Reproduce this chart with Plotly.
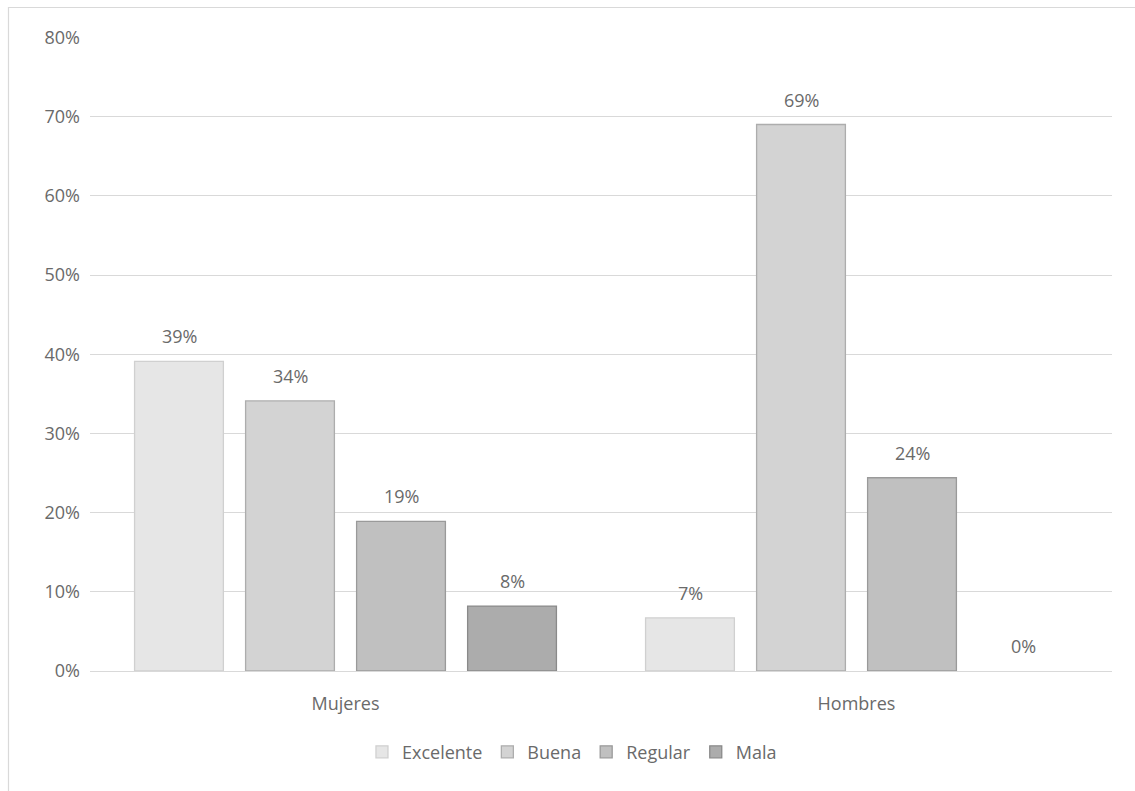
import plotly.graph_objects as go

categories = ["Mujeres", "Hombres"]
series_names = ["Excelente", "Buena", "Regular", "Mala"]
excelente = [0.391, 0.067]
buena = [0.341, 0.690]
regular = [0.189, 0.244]
mala = [0.082, 0.0]
labels = [["39%", "7%"], ["34%", "69%"], ["19%", "24%"], ["8%", "0%"]]
tick_vals = [0, 0.1, 0.2, 0.3, 0.4, 0.5, 0.6, 0.7, 0.8]
tick_text = ["0%", "10%", "20%", "30%", "40%", "50%", "60%", "70%", "80%"]

fills = ["#e6e6e6", "#d3d3d3", "#c0c0c0", "#acacac"]
borders = ["#d0d0d0", "#adadad", "#9a9a9a", "#8a8a8a"]
values = [excelente, buena, regular, mala]
txt = "#6a6a6a"
FONT = "Open Sans"
FS = 18

fig = go.Figure()
for i, (name, vals, f, b, lab) in enumerate(zip(series_names, values, fills, borders, labels)):
    fig.add_trace(go.Bar(
        x=categories, y=vals, name=name, offsetgroup=str(i),
        marker=dict(color=f, line=dict(color=b, width=[1.3 if v > 0 else 0 for v in vals])),
    ))

# data labels placed above each bar via annotations (positions from data)
nser = len(series_names)
for i, (vals, lab) in enumerate(zip(values, labels)):
    for j, (v, t) in enumerate(zip(vals, lab)):
        fig.add_annotation(
            x=categories[j], y=v, text=t, showarrow=False,
            xref="x", yref="y", yanchor="bottom", yshift=11,
            xshift=(i - (nser - 1) / 2) * 111,
            font=dict(color=txt, size=FS, family=FONT),
        )

fig.update_layout(
    width=1135, height=791,
    margin=dict(l=90, r=23, t=37, b=120),
    paper_bgcolor="white", plot_bgcolor="white",
    barmode="group", bargap=0.131, bargroupgap=0.2,
    font=dict(family=FONT, color=txt, size=FS),
    showlegend=True,
    legend=dict(orientation="h", x=0.4716, xanchor="center", y=-0.128, yanchor="middle",
                font=dict(size=FS, color=txt, family=FONT), itemwidth=30,
                traceorder="normal"),
    xaxis=dict(showgrid=False, showline=False, ticks="", ticklabelstandoff=20,
               tickfont=dict(size=FS, color=txt)),
    yaxis=dict(range=[0, 0.8005], tickvals=tick_vals, ticktext=tick_text,
               showgrid=True, gridcolor="#d9d9d9", gridwidth=1,
               zeroline=True, zerolinecolor="#d9d9d9", zerolinewidth=1,
               showline=False, ticks="", ticklabelstandoff=9,
               tickfont=dict(size=FS, color=txt)),
    shapes=[dict(type="rect", xref="paper", yref="paper",
                 x0=(8.5 - 90) / 1022, x1=(1140 - 90) / 1022,
                 y0=(671 - 800) / 634, y1=(671 - 7.5) / 634,
                 line=dict(color="#d9d9d9", width=1.2), fillcolor="rgba(0,0,0,0)", layer="below")],
)
fig.write_html("out.html")
